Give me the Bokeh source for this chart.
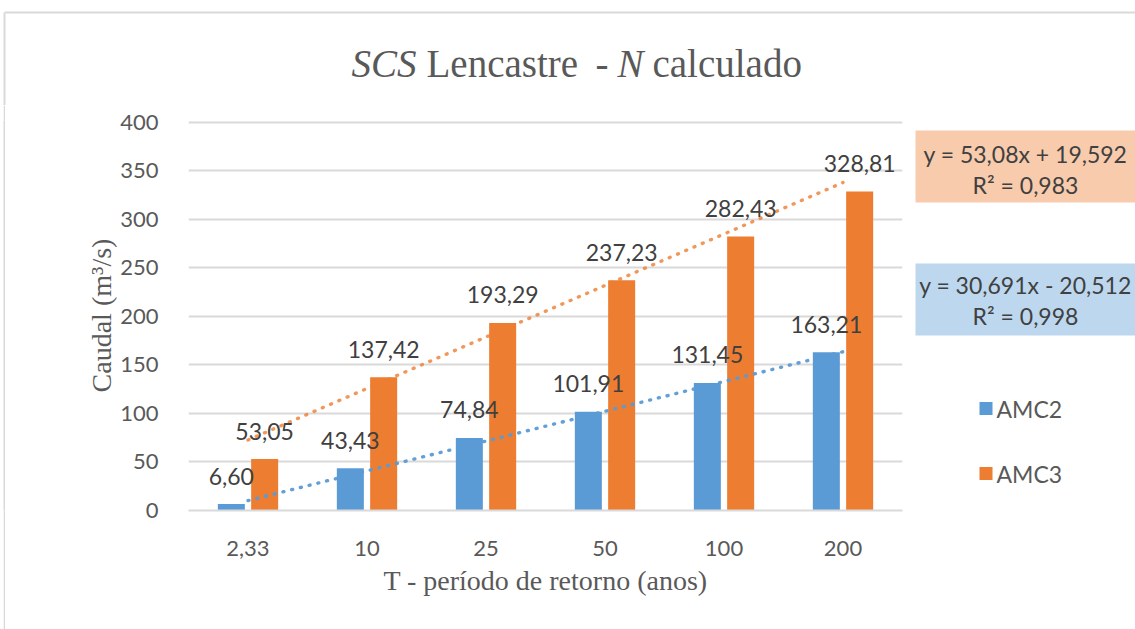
from bokeh.plotting import figure
from bokeh.models import ColumnDataSource, FactorRange, Range1d, FixedTicker, Spacer
from bokeh.layouts import column, row
from bokeh.transform import dodge
from bokeh.embed import file_html
from bokeh.resources import INLINE
from bokeh.core.properties import value

# ---------------- data ----------------
categories = ["2,33", "10", "25", "50", "100", "200"]
amc2 = [6.60, 43.43, 74.84, 101.91, 131.45, 163.21]
amc3 = [53.05, 137.42, 193.29, 237.23, 282.43, 328.81]
amc2_labels = ["6,60", "43,43", "74,84", "101,91", "131,45", "163,21"]
amc3_labels = ["53,05", "137,42", "193,29", "237,23", "282,43", "328,81"]
trend2_slope, trend2_icpt = 30.691, -20.512
trend3_slope, trend3_icpt = 53.08, 19.592
eq2_text = ["y = 30,691x - 20,512", "R² = 0,998"]
eq3_text = ["y = 53,08x + 19,592", "R² = 0,983"]
y_ticks = [0, 50, 100, 150, 200, 250, 300, 350, 400]
series_names = ["AMC2", "AMC3"]
title_parts = [("SCS", "italic"), ("Lencastre", "normal"), ("-", "normal"),
               ("N", "italic"), ("calculado", "normal")]
x_title = "T - período de retorno (anos)"
y_title = "Caudal (m³/s)"

BLUE = "#5B9BD5"
ORANGE = "#ED7D31"
TXT = "#595959"
LBL = "#404040"
BORDER = "#D9D9D9"
SANS = "Lato"
SERIF = "Liberation Serif"

TOTAL_W, TOTAL_H = 1135, 629
TITLE_H = 105
STRIP_W = 8
MAIN_W = 897
RIGHT_W = TOTAL_W - STRIP_W - MAIN_W
BODY_H = TOTAL_H - TITLE_H
FL, FT, FW, FH = 180, 15, 714, 390
FB = BODY_H - FT - FH
FRAME_TOP = TITLE_H + FT
FRAME_BOTTOM = FRAME_TOP + FH


def blank(width, height, xr, yr, **kw):
    f = figure(width=width, height=height, x_range=xr, y_range=yr,
               output_backend="svg", toolbar_location=None,
               x_axis_location=None, y_axis_location=None, min_border=0, **kw)
    f.grid.visible = False
    f.outline_line_color = None
    f.background_fill_color = "white"
    f.border_fill_color = "white"
    return f


# ---------------- title strip ----------------
tfig = blank(TOTAL_W, TITLE_H, Range1d(0, TOTAL_W), Range1d(TITLE_H, 0))
tfig.segment(x0=[4, 4], y0=[12, 12], x1=[TOTAL_W, 4], y1=[12, TITLE_H],
             line_color=BORDER, line_width=2)
title_x = [351, 426, 595, 617, 652]
for (txt, style), tx in zip(title_parts, title_x):
    tfig.text(x=[tx], y=[63], text=[txt], text_font=value(SERIF), text_font_size="39px",
              text_font_style=style, text_color=TXT, text_align="left",
              text_baseline="middle")

# ---------------- left border strip ----------------
lfig = blank(2, BODY_H, Range1d(0, 1), Range1d(0, 1))
lfig.background_fill_color = BORDER
lfig.border_fill_color = BORDER

# ---------------- main chart ----------------
p = figure(width=MAIN_W, height=BODY_H, x_range=FactorRange(*categories), y_range=Range1d(0, 402),
           output_backend="svg", toolbar_location=None,
           min_border_left=FL, min_border_right=MAIN_W - FL - FW,
           min_border_top=FT, min_border_bottom=FB)
p.outline_line_color = None
p.background_fill_color = "white"
p.border_fill_color = "white"

src = ColumnDataSource(dict(cat=categories, amc2=amc2, amc3=amc3,
                            l2=amc2_labels, l3=amc3_labels))

p.vbar(x=dodge("cat", -0.14, range=p.x_range), top="amc2", width=0.227, source=src,
       fill_color=BLUE, line_color=None)
p.vbar(x=dodge("cat", 0.14, range=p.x_range), top="amc3", width=0.227, source=src,
       fill_color=ORANGE, line_color=None)

# linear trend lines from the fitted equations displayed on the chart
xs_tr = [categories[0], categories[-1]]
t2 = [trend2_slope * 1 + trend2_icpt, trend2_slope * len(categories) + trend2_icpt]
t3 = [trend3_slope * 1 + trend3_icpt, trend3_slope * len(categories) + trend3_icpt]
p.line(xs_tr, t3, line_color=ORANGE, line_alpha=0.8, line_width=3.4, line_dash="1 8", line_cap="round")
p.line(xs_tr, t2, line_color=BLUE, line_alpha=0.95, line_width=3.4, line_dash="1 8", line_cap="round")

# data labels
p.text(x=dodge("cat", -0.14, range=p.x_range), y="amc2", text="l2", source=src,
       y_offset=-28, text_align="center", text_baseline="middle",
       text_font=value(SANS), text_font_size="23px", text_color=LBL)
p.text(x=dodge("cat", 0.14, range=p.x_range), y="amc3", text="l3", source=src,
       y_offset=-28, text_align="center", text_baseline="middle",
       text_font=value(SANS), text_font_size="23px", text_color=LBL)

# axes
p.yaxis.ticker = FixedTicker(ticks=y_ticks)
p.yaxis.axis_line_color = None
p.yaxis.major_tick_line_color = None
p.yaxis.minor_tick_line_color = None
p.yaxis.major_label_standoff = 24
p.yaxis.major_label_text_font = SANS
p.yaxis.major_label_text_font_size = "22px"
p.yaxis.major_label_text_color = TXT
p.yaxis.axis_label = y_title
p.yaxis.axis_label_text_font = SERIF
p.yaxis.axis_label_text_font_size = "28px"
p.yaxis.axis_label_text_font_style = "normal"
p.yaxis.axis_label_text_color = TXT
p.yaxis.axis_label_standoff = 0

p.xaxis.axis_line_color = BORDER
p.xaxis.axis_line_width = 2
p.xaxis.major_tick_line_color = None
p.xaxis.minor_tick_line_color = None
p.xaxis.major_label_standoff = 24
p.xaxis.major_label_text_font = SANS
p.xaxis.major_label_text_font_size = "22px"
p.xaxis.major_label_text_color = TXT
p.xaxis.axis_label = x_title
p.xaxis.axis_label_text_font = SERIF
p.xaxis.axis_label_text_font_size = "28px"
p.xaxis.axis_label_text_font_style = "normal"
p.xaxis.axis_label_text_color = TXT
p.xaxis.axis_label_standoff = 6

p.xgrid.grid_line_color = None
p.ygrid.grid_line_color = BORDER
p.ygrid.grid_line_width = 2

# ---------------- right side: trend equations + legend ----------------
X0 = STRIP_W + MAIN_W
rfig = blank(RIGHT_W, BODY_H, Range1d(X0, TOTAL_W), Range1d(FRAME_BOTTOM, FRAME_TOP))
rfig.min_border_top = FT
rfig.min_border_bottom = FB
rfig.quad(left=[915, 915], right=[TOTAL_W + 5, TOTAL_W + 5], top=[130, 263], bottom=[202, 335],
          fill_color=["#F8CBAD", "#BDD7EE"], line_color=None)
rfig.text(x=[1025, 1025, 1025, 1025], y=[153, 184, 284, 315],
          text=[eq3_text[0], eq3_text[1], eq2_text[0], eq2_text[1]],
          text_font=value(SANS), text_font_size="23px", text_color=LBL,
          text_align="center", text_baseline="middle")
leg_y = [408, 473]
rfig.quad(left=[979, 979], right=[992, 992], top=[y - 6.5 for y in leg_y],
          bottom=[y + 6.5 for y in leg_y], fill_color=[BLUE, ORANGE], line_color=None)
rfig.text(x=[996, 996], y=leg_y, text=series_names, text_font=value(SANS),
          text_font_size="23px", text_color=TXT, text_align="left", text_baseline="middle")

layout = column(tfig, row(Spacer(width=3, height=BODY_H), lfig, Spacer(width=3, height=BODY_H), p, rfig))
open("out.html", "w").write(file_html(layout, INLINE))
